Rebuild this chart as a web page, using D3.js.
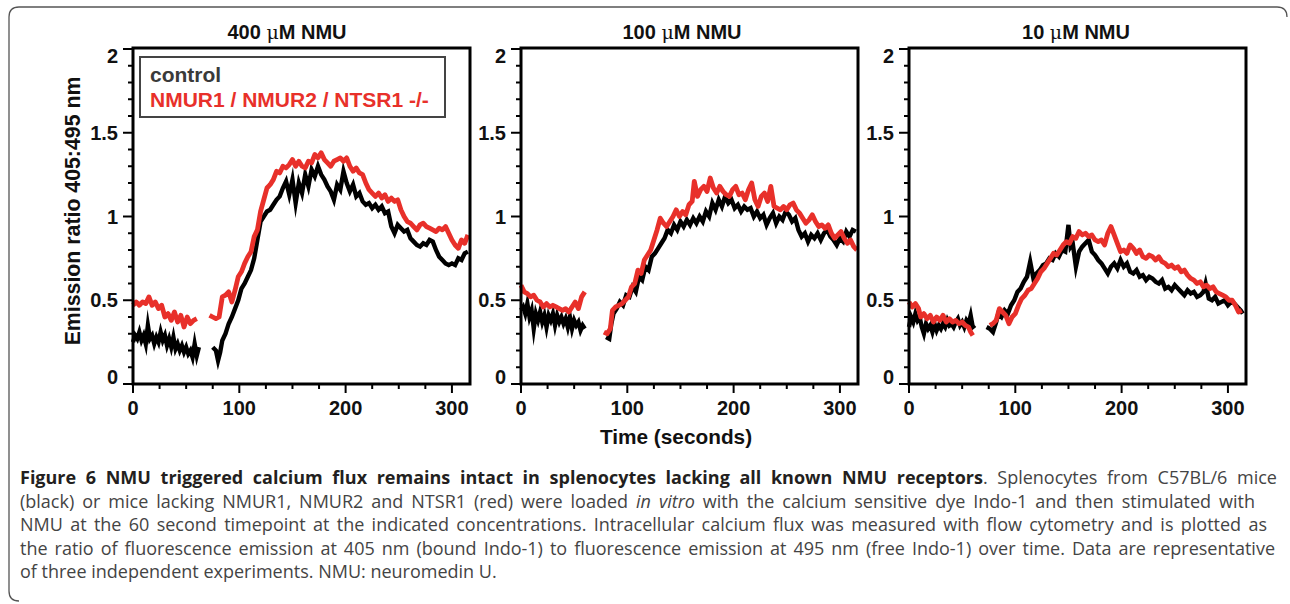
<!DOCTYPE html>
<html>
<head>
<meta charset="utf-8">
<script src="https://cdn.jsdelivr.net/npm/d3@7"></script>
<style>
  body { margin: 0; background: #fff; }
  svg { display: block; font-family: "Liberation Sans", Arial, sans-serif; }
</style>
</head>
<body>
<svg id="chart" width="1290" height="604"></svg>
<script>
// Calcium flux traces, [time (s), emission ratio 405:495]
// each trace is split in two runs (before and after the NMU addition gap)

// 400 uM NMU
const ctrl400Pre = [[0,.25],[2,.29],[4,.27],[6,.31],[8,.26],[10,.29],[12,.24],[14,.35],[16,.27],[18,.29],[20,.24],[22,.28],[24,.25],[26,.31],[28,.26],[30,.29],[32,.23],[34,.27],[36,.22],[38,.28],[40,.21],[42,.24],[44,.20],[46,.23],[48,.19],[50,.22],[52,.18],[54,.20],[56,.16],[58,.24],[60,.17],[62,.22]];
const ctrl400Post = [[75,.22],[78,.20],[80,.14],[82,.19],[84,.26],[87,.30],[90,.36],[93,.40],[96,.45],[99,.50],[102,.57],[105,.60],[108,.64],[111,.68],[114,.75],[117,.86],[120,.97],[123,1.00],[126,1.03],[129,1.04],[132,1.07],[135,1.10],[138,1.12],[141,1.17],[144,1.21],[147,1.13],[150,1.22],[153,1.08],[156,1.20],[159,1.14],[162,1.25],[165,1.18],[168,1.28],[171,1.24],[174,1.30],[177,1.25],[180,1.22],[183,1.18],[186,1.15],[189,1.10],[192,1.19],[195,1.16],[198,1.27],[201,1.20],[204,1.15],[207,1.19],[210,1.12],[213,1.14],[216,1.09],[219,1.07],[222,1.08],[225,1.05],[228,1.07],[231,1.04],[234,1.06],[237,1.02],[240,1.03],[243,.94],[246,.90],[249,.95],[252,.93],[255,.91],[258,.92],[261,.87],[264,.85],[267,.83],[270,.82],[273,.84],[276,.83],[279,.86],[282,.85],[285,.80],[288,.76],[291,.74],[294,.72],[297,.71],[300,.72],[303,.71],[306,.75],[309,.74],[312,.78],[315,.79]];
const ko400Pre = [[0,.47],[3,.49],[6,.47],[9,.49],[12,.48],[15,.52],[18,.47],[21,.49],[24,.45],[27,.47],[30,.40],[33,.42],[36,.38],[39,.43],[42,.37],[45,.41],[48,.34],[51,.40],[54,.36],[57,.38],[60,.39]];
const ko400Post = [[72,.41],[75,.40],[78,.39],[81,.40],[84,.52],[87,.53],[90,.55],[93,.49],[96,.56],[99,.64],[102,.67],[105,.72],[108,.76],[111,.79],[114,.88],[117,.92],[120,1.03],[123,1.10],[126,1.17],[129,1.19],[132,1.22],[135,1.27],[138,1.26],[141,1.30],[144,1.29],[147,1.31],[150,1.34],[153,1.30],[156,1.33],[159,1.30],[162,1.29],[165,1.33],[168,1.32],[171,1.37],[174,1.35],[177,1.38],[180,1.34],[183,1.32],[186,1.30],[189,1.33],[192,1.34],[195,1.35],[198,1.33],[201,1.35],[204,1.30],[207,1.27],[210,1.29],[213,1.26],[216,1.25],[219,1.20],[222,1.16],[225,1.14],[228,1.12],[231,1.14],[234,1.11],[237,1.13],[240,1.09],[243,1.11],[246,1.09],[249,1.10],[252,1.04],[255,1.00],[258,.97],[261,.96],[264,.94],[267,.92],[270,.95],[273,.96],[276,.94],[279,.93],[282,.92],[285,.91],[288,.93],[291,.92],[294,.94],[297,.90],[300,.86],[303,.83],[306,.81],[309,.86],[312,.84],[315,.89]];

// 100 uM NMU
const ctrl100Pre = [[0,.44],[2,.46],[4,.42],[6,.48],[8,.40],[10,.44],[12,.33],[14,.42],[16,.38],[18,.43],[20,.37],[22,.41],[24,.34],[26,.41],[28,.38],[30,.42],[32,.35],[34,.41],[36,.37],[38,.40],[40,.36],[42,.39],[44,.34],[46,.40],[48,.33],[50,.38],[52,.35],[54,.37],[56,.32],[58,.35],[60,.33]];
const ctrl100Post = [[80,.28],[83,.27],[85,.36],[87,.42],[90,.45],[93,.49],[96,.47],[99,.53],[102,.52],[105,.58],[108,.55],[111,.64],[114,.62],[117,.70],[120,.68],[123,.76],[126,.78],[129,.81],[132,.84],[135,.87],[138,.92],[141,.90],[144,.95],[147,.92],[150,.97],[153,.94],[156,.98],[159,.95],[162,.99],[165,.96],[168,1.00],[171,.97],[174,1.03],[177,1.00],[180,1.08],[183,1.04],[186,1.10],[189,1.06],[192,1.12],[195,1.08],[198,1.10],[201,1.05],[204,1.07],[207,1.03],[210,1.06],[213,1.04],[216,1.05],[219,1.00],[222,1.03],[225,.99],[228,1.01],[231,.95],[234,.99],[237,1.02],[240,.96],[243,1.00],[246,.98],[249,1.03],[252,1.01],[255,.97],[258,.99],[261,.92],[264,.88],[267,.90],[270,.85],[273,.89],[276,.87],[279,.90],[282,.86],[285,.90],[288,.92],[291,.88],[294,.86],[297,.83],[300,.87],[303,.85],[306,.91],[309,.88],[312,.92],[315,.91]];
const ko100Pre = [[0,.59],[3,.55],[6,.54],[9,.52],[12,.53],[15,.50],[18,.49],[21,.46],[24,.48],[27,.46],[30,.47],[33,.46],[36,.45],[39,.44],[42,.45],[45,.43],[48,.46],[51,.49],[54,.45],[57,.52],[60,.55]];
const ko100Post = [[78,.31],[81,.30],[84,.33],[86,.44],[89,.46],[92,.47],[95,.48],[98,.50],[101,.52],[104,.58],[107,.60],[110,.68],[113,.66],[116,.74],[119,.77],[122,.80],[125,.86],[128,.92],[131,.99],[134,.96],[137,.94],[140,.97],[143,1.00],[146,1.04],[149,1.00],[152,1.03],[155,1.01],[158,1.07],[161,1.09],[163,1.21],[166,1.12],[169,1.16],[172,1.18],[175,1.15],[178,1.23],[181,1.17],[184,1.14],[187,1.18],[190,1.15],[193,1.13],[196,1.12],[199,1.16],[202,1.18],[205,1.13],[208,1.14],[211,1.10],[214,1.16],[217,1.20],[220,1.10],[223,1.06],[226,1.12],[229,1.14],[232,1.09],[235,1.18],[238,1.06],[241,1.05],[244,1.04],[247,1.06],[250,1.04],[253,1.07],[256,1.08],[259,1.04],[262,1.02],[265,.99],[268,.96],[271,.98],[274,1.01],[277,.97],[280,.94],[283,.95],[286,.93],[289,.95],[292,.90],[295,.87],[298,.89],[301,.91],[304,.87],[307,.84],[310,.86],[313,.82],[316,.80]];

// 10 uM NMU
const ctrl10Pre = [[0,.34],[2,.40],[4,.37],[6,.42],[8,.38],[10,.40],[12,.34],[14,.30],[16,.36],[18,.33],[20,.35],[22,.31],[24,.36],[26,.32],[28,.35],[30,.33],[32,.36],[34,.34],[36,.38],[38,.35],[40,.36],[42,.34],[44,.37],[46,.39],[48,.35],[50,.37],[52,.34],[54,.38],[56,.36],[58,.41],[60,.34],[62,.35]];
const ctrl10Post = [[73,.34],[76,.33],[79,.31],[82,.37],[84,.42],[87,.40],[90,.44],[93,.42],[96,.47],[99,.50],[102,.55],[105,.57],[108,.61],[111,.64],[114,.73],[117,.63],[120,.66],[123,.68],[126,.71],[129,.72],[132,.75],[135,.74],[138,.78],[141,.76],[144,.80],[147,.79],[150,.95],[152,.82],[154,.84],[157,.70],[160,.79],[163,.82],[166,.84],[169,.86],[172,.79],[175,.77],[178,.74],[181,.72],[184,.69],[187,.66],[190,.70],[193,.72],[196,.69],[199,.74],[202,.70],[205,.72],[208,.67],[211,.66],[214,.68],[217,.64],[220,.65],[223,.62],[226,.64],[229,.63],[232,.61],[235,.60],[238,.62],[241,.57],[244,.58],[247,.56],[250,.59],[253,.57],[256,.55],[259,.53],[262,.56],[265,.54],[268,.55],[271,.52],[274,.53],[277,.55],[279,.60],[282,.51],[285,.50],[288,.52],[291,.48],[294,.49],[297,.50],[300,.47],[303,.49],[306,.48],[309,.46],[312,.44],[314,.42]];
const ko10Pre = [[0,.49],[3,.46],[6,.48],[9,.45],[11,.40],[14,.42],[17,.39],[20,.41],[23,.37],[26,.40],[29,.38],[32,.41],[35,.37],[38,.39],[41,.37],[44,.38],[47,.36],[50,.37],[53,.35],[56,.34],[58,.31],[60,.29]];
const ko10Post = [[76,.35],[79,.36],[82,.38],[85,.45],[88,.43],[91,.41],[94,.36],[97,.40],[100,.42],[103,.47],[106,.51],[109,.53],[112,.56],[115,.57],[118,.60],[121,.63],[124,.67],[127,.69],[130,.72],[133,.75],[136,.78],[139,.77],[142,.80],[145,.83],[148,.85],[151,.84],[154,.88],[157,.87],[160,.91],[163,.89],[166,.90],[169,.88],[172,.89],[175,.86],[178,.85],[181,.86],[184,.83],[187,.90],[190,.94],[193,.89],[196,.84],[199,.79],[202,.80],[205,.78],[208,.83],[211,.81],[214,.78],[217,.80],[220,.76],[223,.75],[226,.77],[229,.76],[232,.74],[235,.76],[238,.73],[241,.72],[244,.70],[247,.71],[250,.69],[253,.70],[256,.67],[259,.68],[262,.65],[265,.63],[268,.62],[271,.60],[274,.61],[277,.58],[280,.59],[283,.57],[286,.58],[289,.55],[292,.54],[295,.53],[298,.52],[301,.50],[304,.50],[307,.47],[310,.43],[313,.44]];

const concentrations = ["400", "100", "10"];
const yMajor = [0, 0.5, 1, 1.5, 2];
const yMinor = [0.1, 0.2, 0.3, 0.4, 0.6, 0.7, 0.8, 0.9, 1.1, 1.2, 1.3, 1.4, 1.6, 1.7, 1.8, 1.9];
const xMajor = [0, 100, 200, 300];
const xMinor = [25, 50, 75, 125, 150, 175, 225, 250, 275];
const legendLabels = ["control", "NMUR1 / NMUR2 / NTSR1 -/-"];

const RED = "#e8302a";

const panels = [
  { conc: concentrations[0], ctrl: [ctrl400Pre, ctrl400Post], ko: [ko400Pre, ko400Post], left: 133, titleX: 287 },
  { conc: concentrations[1], ctrl: [ctrl100Pre, ctrl100Post], ko: [ko100Pre, ko100Post], left: 521, titleX: 682 },
  { conc: concentrations[2], ctrl: [ctrl10Pre, ctrl10Post], ko: [ko10Pre, ko10Post], left: 909, titleX: 1076 },
];

const svg = d3.select("#chart");

// outer figure frame (rounded top/left edge)
svg.append("path")
  .attr("d", "M1287,17 Q1287,7 1277,7 L19,7 Q9,7 9,17 L9,591 Q9,601 19,601")
  .attr("fill", "none")
  .attr("stroke", "#555")
  .attr("stroke-width", 1.3);

const plotTop = 48, plotBottom = 384, plotW = 337;
const y = d3.scaleLinear().domain([0, 2]).range([plotBottom, plotTop + 1]);

panels.forEach((p, i) => {
  const x = d3.scaleLinear().domain([0, 317]).range([p.left, p.left + plotW]);
  const g = svg.append("g");

  // title
  const title = g.append("text")
    .attr("x", p.titleX)
    .attr("y", 39)
    .attr("text-anchor", "middle")
    .style("font-size", "20px")
    .style("font-weight", "bold")
    .style("fill", "#111");
  title.append("tspan").text(p.conc + " ");
  title.append("tspan").style("font-family", "'DejaVu Serif', 'Liberation Serif', serif").style("font-weight", "normal").style("font-size", "19px").text("\u03BC");
  title.append("tspan").text("M NMU");

  // traces: control (black) then knockout (red)
  const line = d3.line().x((d) => x(d[0])).y((d) => y(d[1]));
  p.ctrl.forEach((seg) => {
    g.append("path").attr("d", line(seg))
      .attr("fill", "none").attr("stroke", "#000")
      .attr("stroke-width", 4.4).attr("stroke-linejoin", "miter").attr("stroke-miterlimit", 8);
  });
  p.ko.forEach((seg) => {
    g.append("path").attr("d", line(seg))
      .attr("fill", "none").attr("stroke", RED)
      .attr("stroke-width", 4.8).attr("stroke-linejoin", "round");
  });

  // plot frame
  g.append("rect")
    .attr("x", p.left).attr("y", plotTop)
    .attr("width", plotW).attr("height", plotBottom - plotTop)
    .attr("fill", "none").attr("stroke", "#000").attr("stroke-width", 3);

  // y ticks
  g.selectAll(".ymin").data(yMinor).join("line")
    .attr("x1", p.left - 5).attr("x2", p.left)
    .attr("y1", (d) => y(d)).attr("y2", (d) => y(d))
    .attr("stroke", "#000").attr("stroke-width", 2);
  g.selectAll(".ymaj").data(yMajor).join("line")
    .attr("x1", p.left - 10).attr("x2", p.left)
    .attr("y1", (d) => y(d)).attr("y2", (d) => y(d))
    .attr("stroke", "#000").attr("stroke-width", 2);
  g.selectAll(".ylab").data(yMajor).join("text")
    .attr("x", p.left - 15)
    .attr("y", (d) => y(d))
    .attr("dy", (d) => (d === 2 ? "0.72em" : d === 0 ? "-0.02em" : "0.36em"))
    .attr("text-anchor", "end")
    .style("font-size", "20px").style("font-weight", "bold").style("fill", "#111")
    .text((d) => d3.format("")(d));

  // x ticks
  g.selectAll(".xmin").data(xMinor).join("line")
    .attr("x1", (d) => x(d)).attr("x2", (d) => x(d))
    .attr("y1", plotBottom).attr("y2", plotBottom + 5)
    .attr("stroke", "#000").attr("stroke-width", 2);
  g.selectAll(".xmaj").data(xMajor).join("line")
    .attr("x1", (d) => x(d)).attr("x2", (d) => x(d))
    .attr("y1", plotBottom).attr("y2", plotBottom + 9)
    .attr("stroke", "#000").attr("stroke-width", 2);
  g.selectAll(".xlab").data(xMajor).join("text")
    .attr("x", (d) => x(d))
    .attr("y", 415)
    .attr("text-anchor", "middle")
    .style("font-size", "20px").style("font-weight", "bold").style("fill", "#111")
    .text((d) => d);

  // legend only in first panel
  if (i === 0) {
    g.append("rect")
      .attr("x", 140).attr("y", 57).attr("width", 305).attr("height", 60)
      .attr("fill", "#fff").attr("stroke", "#444").attr("stroke-width", 2);
    g.append("text").attr("x", 150).attr("y", 82)
      .style("font-size", "21px").style("font-weight", "bold").style("fill", "#3a3a3a")
      .text(legendLabels[0]);
    g.append("text").attr("x", 150).attr("y", 107)
      .style("font-size", "21px").style("font-weight", "bold").style("fill", RED)
      .text(legendLabels[1]);
  }
});

// axis titles
svg.append("text")
  .attr("transform", "translate(80,211) rotate(-90)")
  .attr("text-anchor", "middle")
  .style("font-size", "21.3px").style("font-weight", "bold").style("fill", "#111")
  .text("Emission ratio 405:495 nm");

svg.append("text")
  .attr("x", 676).attr("y", 444)
  .attr("text-anchor", "middle")
  .style("font-size", "20.8px").style("font-weight", "bold").style("fill", "#111")
  .text("Time (seconds)");

// caption
const captionLines = [
  { end: 1277, parts: [["Figure 6 NMU triggered calcium flux remains intact in splenocytes lacking all known NMU receptors", "b"], [". Splenocytes from C57BL/6 mice", ""]] },
  { end: 1255, parts: [["(black) or mice lacking NMUR1, NMUR2 and NTSR1 (red) were loaded ", ""], ["in vitro", "i"], [" with the calcium sensitive dye Indo-1 and then stimulated with", ""]] },
  { end: 1267, parts: [["NMU at the 60 second timepoint at the indicated concentrations. Intracellular calcium flux was measured with flow cytometry and is plotted as", ""]] },
  { end: 1275, parts: [["the ratio of fluorescence emission at 405 nm (bound Indo-1) to fluorescence emission at 495 nm (free Indo-1) over time. Data are representative", ""]] },
  { end: 512, parts: [["of three independent experiments. NMU: neuromedin U.", ""]] },
];
const capX = 20;
const capTexts = captionLines.map((ln, i) => {
  const t = svg.append("text")
    .attr("x", capX).attr("y", 484 + i * 23.6)
    .style("font-family", "'Open Sans', 'Noto Sans', sans-serif")
    .style("font-size", "16px").style("fill", "#444");
  ln.parts.forEach(([s, f]) => {
    const ts = t.append("tspan").text(s);
    if (f === "b") ts.style("font-weight", "bold").style("fill", "#231f20");
    if (f === "i") ts.style("font-style", "italic");
  });
  return t;
});
// pick the caption size from the last (unjustified) line, then fit the others with word spacing
const lastW = capTexts[4].node().getComputedTextLength();
const capSize = Math.min(18, 16 * (captionLines[4].end - capX) / lastW);
capTexts.forEach((t, i) => {
  t.style("font-size", capSize + "px");
  if (i < 4) {
    const w = t.node().getComputedTextLength();
    const spaces = captionLines[i].parts.map((d) => d[0]).join("").split(" ").length - 1;
    t.style("word-spacing", ((captionLines[i].end - capX - w) / spaces) + "px");
  }
});
</script>
</body>
</html>
